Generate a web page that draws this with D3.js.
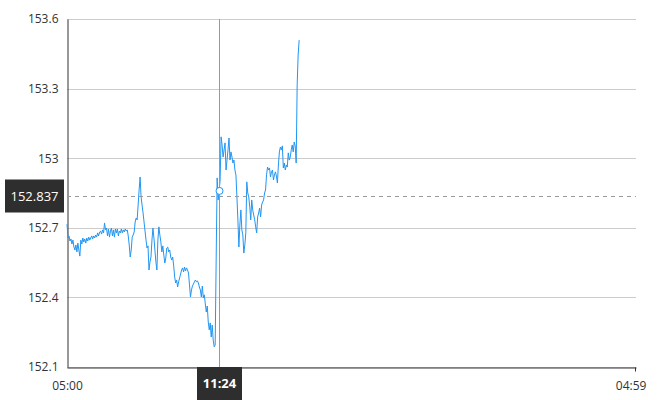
<!DOCTYPE html>
<html>
<head>
<meta charset="utf-8">
<script src="https://cdn.jsdelivr.net/npm/d3@7"></script>
<style>
  body { margin: 0; background: #fff; }
  svg text { font-family: "Open Sans", "Noto Sans", sans-serif; }
</style>
</head>
<body>
<div id="chart"></div>
<script>
//width and height
var chart_width = 670;
var chart_height = 400;
var margin = {top: 19, right: 34, bottom: 33, left: 67};

// data: one price every 2.5 minutes starting 05:00
var start_time = "05:00";
var step_minutes = 2.5;
var prices = [
    152.716,152.656,152.665,152.643,152.652,152.630,152.647,152.617,152.604,152.626,
    152.596,152.634,152.604,152.578,152.647,152.630,152.656,152.639,152.652,152.634,
    152.656,152.643,152.660,152.647,152.656,152.665,152.652,152.665,152.656,152.669,
    152.660,152.678,152.665,152.682,152.686,152.673,152.691,152.678,152.721,152.691,
    152.699,152.665,152.695,152.660,152.686,152.699,152.665,152.691,152.660,152.695,
    152.678,152.695,152.665,152.686,152.678,
    152.695,152.678,152.691,152.682,152.695,152.686,152.691,152.665,152.626,152.574,
    152.604,152.660,152.669,152.682,152.725,152.742,152.734,152.798,152.863,152.919,
    152.833,152.798,152.764,152.725,152.686,152.647,152.613,152.622,152.518,152.553,
    152.574,152.647,152.699,152.656,152.604,152.553,152.518,152.647,152.704,152.669,
    152.639,152.596,152.622,152.583,152.548,152.570,152.613,152.617,152.596,152.604,
    152.574,152.561,152.574,152.536,152.488,152.462,152.475,152.445,152.467,152.484,
    152.501,152.518,152.527,152.510,152.531,152.514,152.527,152.518,152.505,152.454,
    152.402,152.432,152.449,152.458,152.467,152.475,152.467,152.471,152.462,152.445,
    152.432,152.402,152.449,152.398,152.411,152.372,152.337,152.363,152.294,152.260,
    152.290,152.229,152.281,152.216,152.187,152.195,
    152.561,152.915,152.820,152.859,152.906,153.092,153.057,153.005,153.036,153.066,
    152.949,152.992,153.036,153.087,152.992,153.027,153.005,152.979,152.992,152.949,
    152.928,152.833,152.734,152.617,152.712,152.777,152.691,152.669,152.591,152.626,
    152.678,152.898,152.850,152.833,152.790,152.734,152.820,152.777,152.755,152.734,
    152.704,152.678,152.747,152.764,152.785,152.747,152.798,152.811,152.820,152.850,
    152.863,152.928,152.962,152.949,152.958,152.919,152.941,152.949,152.906,152.928,
    152.941,152.923,152.893,152.971,153.027,153.048,153.036,153.053,152.958,152.979,
    152.949,152.971,152.962,153.023,152.992,153.005,153.036,153.057,153.027,153.070,
    153.053,152.979,153.316,153.445,153.509
];

var y_ticks = [152.1, 152.4, 152.7, 153, 153.3, 153.6];
var x_tick_labels = ["05:00", "04:59"];

// hovered point and price line
var hover_time = "11:24";
var hover_value = 152.859;
var price_label = 152.837;

var parse = d3.timeParse("%Y-%m-%d %H:%M");
var t0 = parse("2024-01-01 " + start_time);
var t1 = d3.timeDay.offset(t0, 1);

var data = prices.map(function(p, i){
    return {date: new Date(t0.getTime() + i * step_minutes * 60000), price: p};
});

var x = d3.scaleTime()
          .domain([t0, t1])
          .range([margin.left, chart_width - margin.right]);

var y = d3.scaleLinear()
          .domain([152.1, 153.6])
          .range([chart_height - margin.bottom, margin.top]);

var svg = d3.select("#chart")
            .append("svg")
            .attr("width", chart_width)
            .attr("height", chart_height);

// gridlines
svg.append("g")
    .selectAll("line")
    .data(y_ticks)
    .enter()
    .append("line")
    .attr("x1", margin.left)
    .attr("x2", chart_width - margin.right)
    .attr("y1", function(d){ return Math.round(y(d)) + 0.5; })
    .attr("y2", function(d){ return Math.round(y(d)) + 0.5; })
    .attr("stroke", "#cccccc")
    .attr("stroke-width", 1);

// y axis
var y_axis = svg.append("g")
    .attr("transform", "translate(" + (margin.left + 0.5) + ",0)")
    .call(d3.axisLeft(y).tickValues(y_ticks).tickSize(0).tickPadding(9).tickFormat(d3.format("")));
y_axis.select(".domain").attr("stroke", "#333");
y_axis.selectAll("text").attr("fill", "#333").attr("font-size", 12);

// x axis
var x_ticks = [t0, d3.timeMinute.offset(t1, -1)];
var x_axis = svg.append("g")
    .attr("transform", "translate(0," + (chart_height - margin.bottom + 0.5) + ")")
    .call(d3.axisBottom(x).tickValues(x_ticks).tickSizeInner(0).tickSizeOuter(0).tickPadding(14)
        .tickFormat(function(d, i){ return x_tick_labels[i]; }));
x_axis.select(".domain").attr("stroke", "#333");
x_axis.selectAll("text").attr("fill", "#333").attr("font-size", 12)
    .attr("dx", function(d, i){ return i == 1 ? -5 : 0; });
x_axis.append("line")
    .attr("x1", x(t1) - 0.5).attr("x2", x(t1) - 0.5)
    .attr("y1", 0).attr("y2", 4)
    .attr("stroke", "#333");

// price line
var line = d3.line()
    .x(function(d){ return x(d.date); })
    .y(function(d){ return y(d.price); });

svg.append("path")
    .datum(data)
    .attr("d", line)
    .attr("fill", "none")
    .attr("stroke", "#2196f3")
    .attr("stroke-width", 1)
    .attr("stroke-linejoin", "round");

// dashed price line
var py = Math.round(y(price_label)) + 0.5;
svg.append("line")
    .attr("x1", margin.left).attr("x2", chart_width - margin.right)
    .attr("y1", py).attr("y2", py)
    .attr("stroke", "#999")
    .attr("stroke-dasharray", "4,4");

// crosshair
var ht = parse("2024-01-01 " + hover_time);
var hx = Math.round(x(ht)) + 0.5;
svg.append("line")
    .attr("x1", hx).attr("x2", hx)
    .attr("y1", margin.top).attr("y2", chart_height - margin.bottom)
    .attr("stroke", "#999")
    .attr("stroke-width", 1);

svg.append("circle")
    .attr("cx", hx)
    .attr("cy", y(hover_value))
    .attr("r", 3.5)
    .attr("fill", "#fff")
    .attr("stroke", "#2196f3")
    .attr("stroke-width", 1);

// y label box
svg.append("rect")
    .attr("x", 5).attr("y", py - 17)
    .attr("width", 59).attr("height", 33)
    .attr("fill", "#2e2e2e");
svg.append("text")
    .attr("x", 34.5).attr("y", py)
    .attr("dy", "0.35em")
    .attr("text-anchor", "middle")
    .attr("fill", "#fff")
    .attr("font-size", 13)
    .text(d3.format(".3f")(price_label));

// x label box
svg.append("rect")
    .attr("x", hx - 22.5).attr("y", chart_height - margin.bottom)
    .attr("width", 45).attr("height", 33)
    .attr("fill", "#2e2e2e");
svg.append("text")
    .attr("x", hx).attr("y", chart_height - margin.bottom + 16)
    .attr("dy", "0.35em")
    .attr("text-anchor", "middle")
    .attr("fill", "#fff")
    .attr("font-size", 13)
    .attr("font-weight", "bold")
    .text(hover_time);
</script>
</body>
</html>
